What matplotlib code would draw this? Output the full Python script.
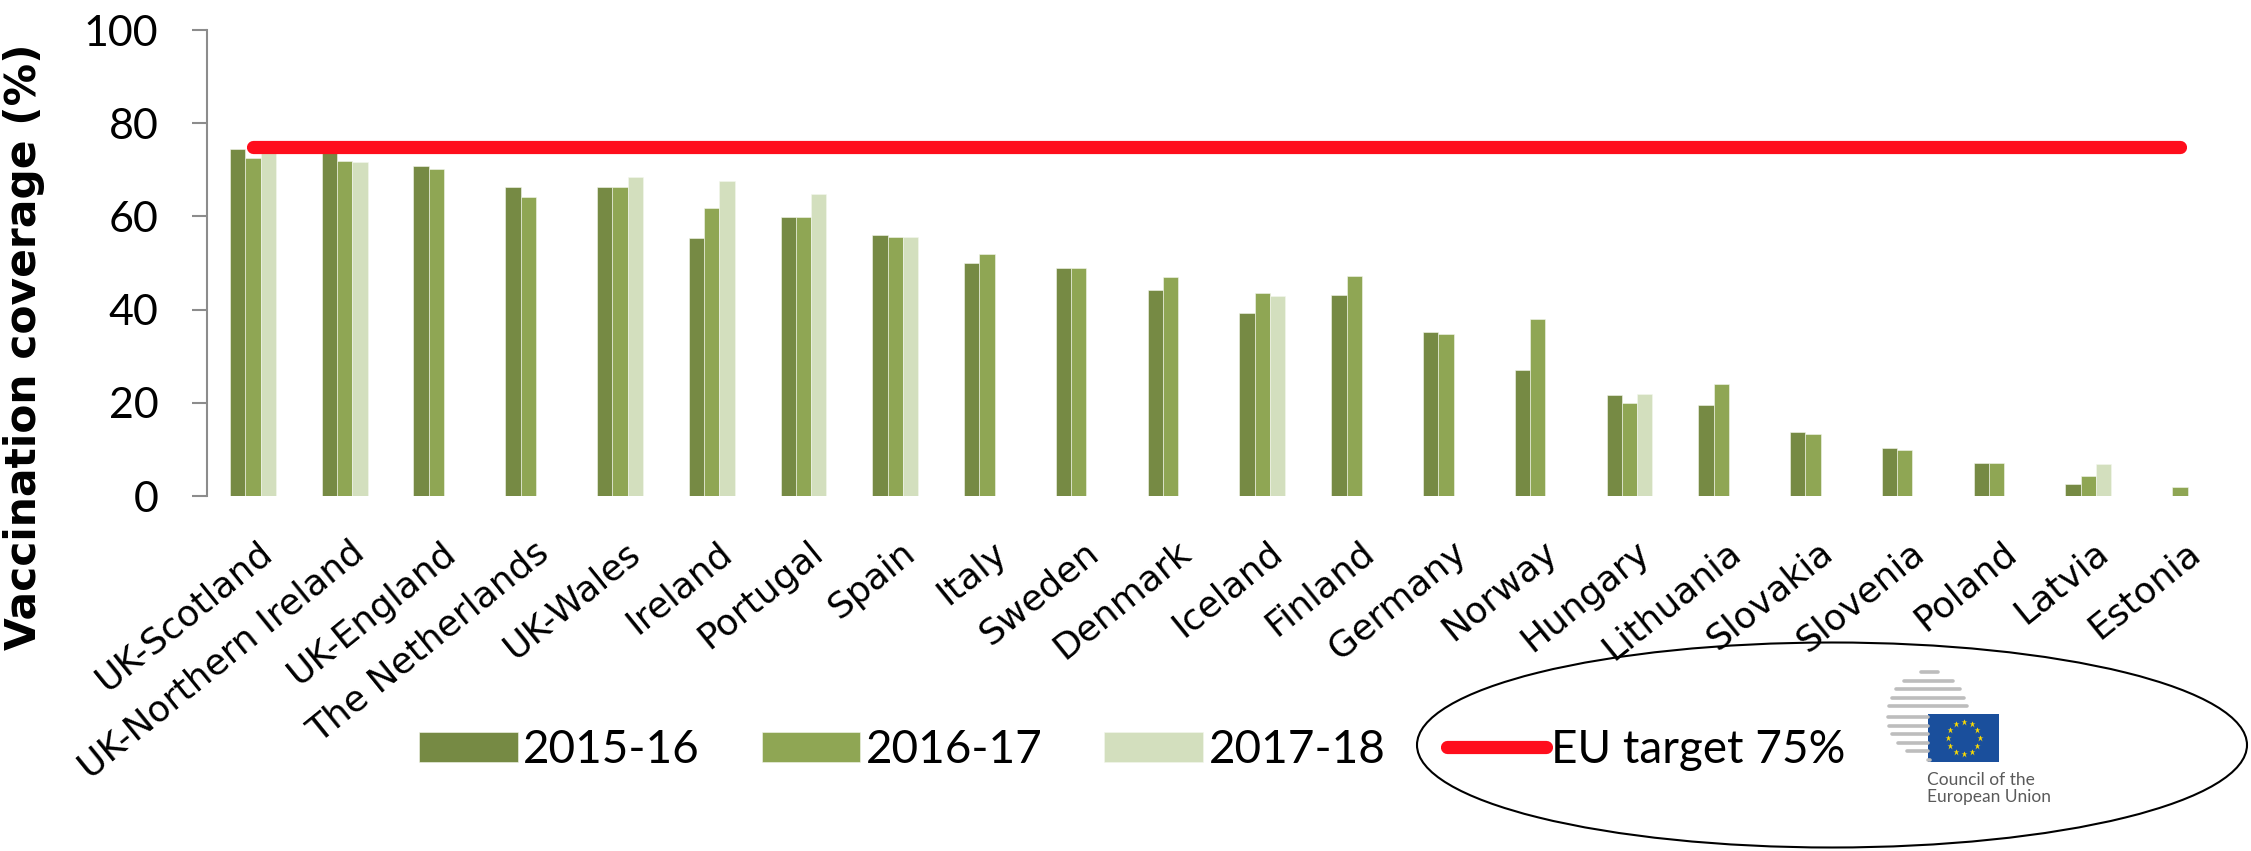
import numpy as np
import matplotlib
matplotlib.use("Agg")
import matplotlib.pyplot as plt
import matplotlib.transforms as mtransforms
from matplotlib.patches import Ellipse, Rectangle, Patch
from matplotlib.lines import Line2D

countries = ["UK-Scotland", "UK-Northern Ireland", "UK-England", "The Netherlands",
             "UK-Wales", "Ireland", "Portugal", "Spain", "Italy", "Sweden", "Denmark",
             "Iceland", "Finland", "Germany", "Norway", "Hungary", "Lithuania",
             "Slovakia", "Slovenia", "Poland", "Latvia", "Estonia"]
cov_2015 = [74.4, 74.8, 70.9, 66.4, 66.4, 55.4, 59.8, 56.0, 50.0, 49.0, 44.1,
            39.2, 43.1, 35.3, 27.0, 21.7, 19.5, 13.7, 10.3, 7.0, 2.5, 0]
cov_2016 = [72.5, 71.8, 70.2, 64.1, 66.4, 61.8, 59.8, 55.5, 51.9, 49.0, 46.9,
            43.6, 47.2, 34.8, 38.0, 20.0, 24.0, 13.4, 9.8, 7.0, 4.3, 2.0]
cov_2017 = [74.0, 71.6, 0, 0, 68.5, 67.5, 64.7, 55.5, 0, 0, 0,
            43.0, 0, 0, 0, 21.8, 0, 0, 0, 0, 6.8, 0]
seasons = ["2015-16", "2016-17", "2017-18"]
eu_target = 75
target_label = "EU target 75%"

colors = ["#768A44", "#8FA654", "#D3DFBE"]
red = "#FF0D1C"

W, H = 2251, 851
fig = plt.figure(figsize=(W / 100, H / 100), dpi=100)
ax = fig.add_axes([207 / W, 1 - 496 / H, (2226 - 207) / W, 466 / H])

x = np.arange(len(countries))
bw = 1 / 6
for k, vals in enumerate([cov_2015, cov_2016, cov_2017]):
    ax.bar(x + (k - 1) * bw, vals, width=bw, color=colors[k],
           edgecolor="#f4f7ee", linewidth=0.4)
ax.plot([x[0], x[-1]], [eu_target, eu_target], color=red, lw=9.5,
        solid_capstyle="round", zorder=3)

ax.set_xlim(-0.5, len(countries) - 0.5)
ax.set_ylim(0, 100)
ax.set_yticks(range(0, 101, 20))
for s in ["top", "right", "bottom"]:
    ax.spines[s].set_visible(False)
ax.spines["left"].set_color("#8c8c8c")
ax.spines["left"].set_linewidth(1.5)
ax.tick_params(axis="y", direction="out", length=11, width=1.5, color="#8c8c8c",
               pad=24, labelsize=31)
ax.tick_params(axis="x", length=0, pad=28)
ax.set_xticks(x)
ax.set_xticklabels(countries, rotation=39, ha="right", va="top",
                   rotation_mode="anchor", fontsize=26, family="DejaVu Sans")
shift = mtransforms.ScaledTranslation(5 / 100, 0, fig.dpi_scale_trans)
for lab in ax.get_xticklabels():
    lab.set_transform(lab.get_transform() + shift)
for lab in ax.get_yticklabels():
    lab.set_family(["Lato", "DejaVu Sans"])

ax.set_ylabel("Vaccination coverage (%)", fontsize=30.5, fontweight="bold",
              family="DejaVu Sans")
ax.yaxis.set_label_coords(-0.080, 0.32)

handles = [Patch(facecolor=c, edgecolor="#f4f7ee", linewidth=0.4) for c in colors]
handles.append(Line2D([], [], color=red, lw=9.5, solid_capstyle="round"))
fig.legend(handles, seasons + [target_label], loc="center left",
           bbox_to_anchor=(419 / W, 1 - 750 / H), ncol=4, frameon=False,
           prop={"family": ["Lato", "DejaVu Sans"], "size": 33},
           handlelength=2.15, handleheight=0.65, handletextpad=0.12,
           columnspacing=1.35, borderpad=0, borderaxespad=0)

# ellipse around the target legend and logo
fig.patches.append(Ellipse((1832, H - 745), 830, 205, transform=None,
                           fill=False, edgecolor="black", linewidth=1.5))

# Council of the European Union logo
cx, cy, r = 1930, 715, 44
for yy in np.linspace(672, 706, 5):
    dy = (yy - cy) / r
    half = r * np.sqrt(max(0.0, 1 - dy ** 2))
    fig.add_artist(Line2D([cx - half * 0.95, cx + half * 0.85], [H - yy, H - yy],
                          transform=None, color="#bdbdbd", lw=2.6,
                          solid_capstyle="round"))
for yy in np.linspace(717, 760, 6):
    dy = (yy - cy) / r
    half = r * np.sqrt(max(0.0, 1 - dy ** 2))
    fig.add_artist(Line2D([cx - half * 0.95, cx - 2], [H - yy, H - yy],
                          transform=None, color="#bdbdbd", lw=2.6,
                          solid_capstyle="round"))
fig.patches.append(Rectangle((1928, H - 762), 71, 48, transform=None,
                             facecolor="#1a4f9c", edgecolor="none"))
ang = np.linspace(0, 2 * np.pi, 13)[:-1]
fig.add_artist(Line2D(1963.5 + 16 * np.cos(ang), H - 738 + 16 * np.sin(ang),
                      transform=None, ls="none", marker="*", ms=5,
                      color="#ffdd00", mec="none"))
fig.text(1927 / W, 1 - 780 / H, "Council of the", fontsize=12.5, color="#5a5a5a",
         family=["Lato", "DejaVu Sans"], va="center")
fig.text(1927 / W, 1 - 797 / H, "European Union", fontsize=12.5, color="#5a5a5a",
         family=["Lato", "DejaVu Sans"], va="center")

fig.savefig("out.png", dpi=100)
